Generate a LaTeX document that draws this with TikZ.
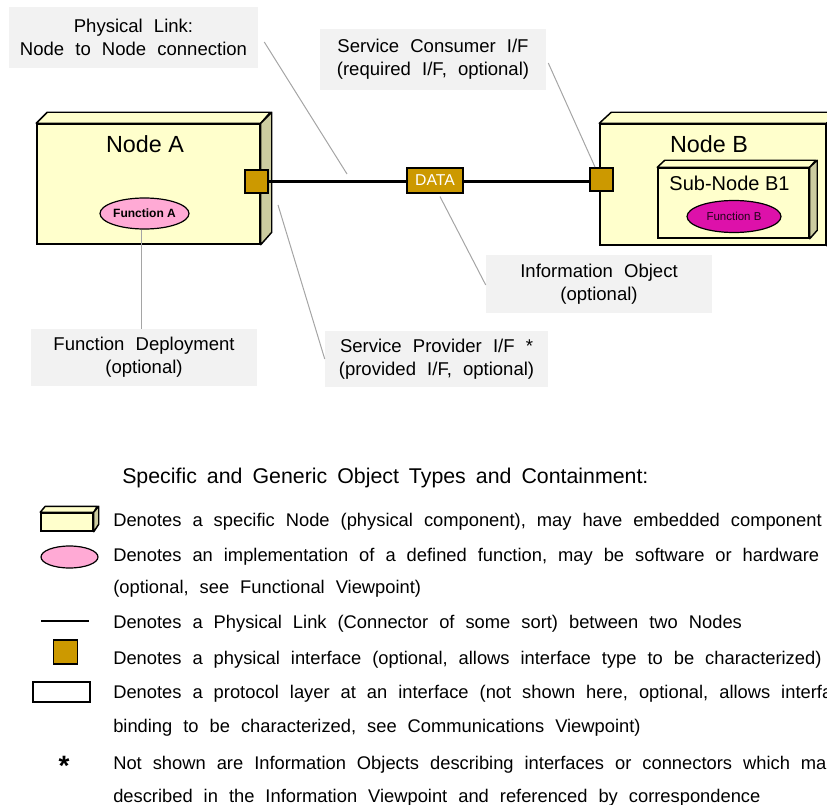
\documentclass[tikz,border=0pt]{standalone}
\usepackage{fontspec}
\setmainfont{Liberation Sans}
\usetikzlibrary{shapes.geometric}
\definecolor{nodeyellow}{RGB}{255,255,204}
\definecolor{sideolive}{RGB}{204,204,160}
\definecolor{gold}{RGB}{204,153,0}
\definecolor{pinkfn}{RGB}{255,170,213}
\definecolor{magentafn}{RGB}{221,17,170}
\definecolor{calloutgray}{RGB}{242,242,242}
\definecolor{leadergray}{RGB}{165,165,165}
\newcommand{\calfont}{\fontsize{13.9}{17.3}\selectfont\spaceskip=0.6em plus 0.1em\relax}
\newcommand{\legfont}{\fontsize{13.75}{17}\selectfont\spaceskip=0.6em plus 0.1em\relax}
\newcommand{\ttlfont}{\fontsize{16}{19}\selectfont\spaceskip=0.47em plus 0.05em\relax}
\tikzset{
  frontface/.style={draw, fill=nodeyellow, line width=1.1pt, inner sep=0pt},
  topface/.style={draw, fill=nodeyellow, line width=1.1pt, line join=round},
  sideface/.style={draw, fill=sideolive, line width=1.1pt, line join=round},
  iface/.style={draw, fill=gold, line width=0.9pt, minimum size=17.25pt, inner sep=0pt},
  link/.style={line width=2.2pt},
  callout/.style={fill=calloutgray, inner sep=0pt, align=center, font=\calfont},
  leader/.style={draw=leadergray, line width=0.75pt},
  fnellipse/.style={ellipse, draw, line width=0.9pt, inner sep=0pt},
  legtext/.style={anchor=base west, inner sep=0pt, font=\legfont},
  bigtitle/.style={font=\ttlfont, inner sep=0pt}
}
\begin{document}
\begin{tikzpicture}[x=0.75pt,y=-0.75pt]
\useasboundingbox (0,0) rectangle (827,805);
\clip (0,0) rectangle (827,805);

% ---------- Node A ----------
\node[frontface, minimum width=223*0.75pt, minimum height=120*0.75pt] (nodeA) at (148.5,184) {};
\draw[topface] (nodeA.north west) -- ++(11,-11) -- ++(223,0) -- (nodeA.north east) -- cycle;
\draw[sideface] (nodeA.north east) -- ++(11,-11) -- ++(0,120) -- (nodeA.south east) -- cycle;
\node[anchor=base, inner sep=0pt, font=\fontsize{17.5}{20}\selectfont] (labA) at (145,153) {Node A};
\node[fnellipse, fill=pinkfn, minimum width=89*0.75pt, minimum height=31*0.75pt,
      font=\fontsize{9}{10}\selectfont\bfseries] (fnA) at (144.5,213.5) {Function A};

% ---------- Node B ----------
\node[frontface, minimum width=226*0.75pt, minimum height=121*0.75pt] (nodeB) at (713,184.5) {};
\draw[topface] (nodeB.north west) -- ++(12,-11) -- ++(226,0) -- (nodeB.north east) -- cycle;
\draw[sideface] (nodeB.north east) -- ++(12,-11) -- ++(0,121) -- (nodeB.south east) -- cycle;
\node[anchor=base, inner sep=0pt, font=\fontsize{17.5}{20}\selectfont] (labB) at (709,153) {Node B};

% ---------- Sub-Node B1 ----------
\node[frontface, minimum width=151*0.75pt, minimum height=70*0.75pt] (subB) at (733.5,203) {};
\draw[topface] (subB.north west) -- ++(7.5,-7) -- ++(151,0) -- (subB.north east) -- cycle;
\draw[sideface] (subB.north east) -- ++(7.5,-7) -- ++(0,70) -- (subB.south east) -- cycle;
\node[anchor=base, inner sep=0pt, font=\fontsize{15}{18}\selectfont] (labB1) at (729.5,191) {Sub-Node B1};
\node[fnellipse, fill=magentafn, minimum width=94*0.75pt, minimum height=32*0.75pt,
      font=\fontsize{8.6}{10}\selectfont, text=black!85!magentafn] (fnB) at (734,216.5) {Function B};

% ---------- interfaces and link ----------
\node[iface] (ifA) at (256.5,181.5) {};
\node[iface] (ifB) at (601.5,179.5) {};
\draw[link] (ifA.east |- 0,181.5) -- (ifB.west |- 0,181.5);
\node[draw, fill=gold, line width=0.9pt, minimum width=56*0.75pt, minimum height=25*0.75pt,
      inner sep=0pt, text=white, font=\fontsize{11.8}{14}\selectfont] (data) at (435,180.5) {DATA};

% ---------- callouts ----------
\node[callout, minimum width=249*0.75pt, minimum height=61*0.75pt] (cLink) at (133.5,37.5)
  {Physical Link:\\Node to Node connection};
\node[callout, minimum width=226*0.75pt, minimum height=61*0.75pt] (cCons) at (433,59.5)
  {Service Consumer I/F\\(required I/F, optional)};
\node[callout, minimum width=226*0.75pt, minimum height=58*0.75pt] (cInfo) at (599,284)
  {Information Object\\(optional)};
\node[callout, minimum width=226*0.75pt, minimum height=57*0.75pt] (cDepl) at (144,357.5)
  {Function Deployment\\(optional)};
\node[callout, minimum width=223*0.75pt, minimum height=56*0.75pt] (cProv) at (436.5,359)
  {Service Provider I/F *\\(provided I/F, optional)};

% leader lines
\coordinate (pLink) at (347,174);
\coordinate (pCons) at (595,167);
\coordinate (pProv) at (278,205);
\draw[leader] (cLink.east |- 0,42) ++(6,0) -- (pLink);
\draw[leader] (cCons.east |- 0,63) ++(2,0) -- (pCons);
\draw[leader] (data.south) ++(5,3) -- (cInfo.west |- 0,285);
\draw[leader] (fnA.south -| 141,0) -- (cDepl.north -| 141,0) ++(0,-4);
\draw[leader] (pProv) -- (cProv.west |- 0,359) ++(-2,0);

% ---------- legend ----------
\node[bigtitle, anchor=base west] (ltitle) at (122,483) {Specific and Generic Object Types and Containment:};

\node[frontface, minimum width=52*0.75pt, minimum height=18*0.75pt] (lgBox) at (67,522) {};
\draw[topface] (lgBox.north west) -- ++(5,-6) -- ++(52,0) -- (lgBox.north east) -- cycle;
\draw[sideface] (lgBox.north east) -- ++(5,-6) -- ++(0,18) -- (lgBox.south east) -- cycle;
\node[legtext] (t1) at (113,526) {Denotes a specific Node (physical component), may have embedded component};

\node[fnellipse, fill=pinkfn, minimum width=57*0.75pt, minimum height=22*0.75pt] (lgEll) at (69.5,557) {};
\node[legtext] (t2) at (113,561) {Denotes an implementation of a defined function, may be software or hardware};
\node[legtext] (t2b) at (113,593) {(optional, see Functional Viewpoint)};

\coordinate (lgL1) at (41,621);
\coordinate (lgL2) at (89,621);
\draw[link] (lgL1) -- (lgL2);
\node[legtext] (t3) at (113,628) {Denotes a Physical Link (Connector of some sort) between two Nodes};

\node[draw, fill=gold, line width=0.9pt, minimum size=24*0.75pt, inner sep=0pt] (lgIf) at (65.5,652) {};
\node[legtext] (t4) at (113,664) {Denotes a physical interface (optional, allows interface type to be characterized)};

\node[draw, fill=white, line width=0.9pt, minimum width=57*0.75pt, minimum height=20*0.75pt, inner sep=0pt] (lgProt) at (61.5,692) {};
\node[legtext] (t5) at (113,698) {Denotes a protocol layer at an interface (not shown here, optional, allows interfac};
\node[legtext] (t5b) at (113,732) {binding to be characterized, see Communications Viewpoint)};

\node[anchor=base, inner sep=0pt, font=\fontsize{21}{24}\selectfont\bfseries] (lgStar) at (64,775) {*};
\node[legtext] (t6) at (113,769) {Not shown are Information Objects describing interfaces or connectors which ma};
\node[legtext] (t6b) at (113,802) {described in the Information Viewpoint and referenced by correspondence};
\end{tikzpicture}
\end{document}
